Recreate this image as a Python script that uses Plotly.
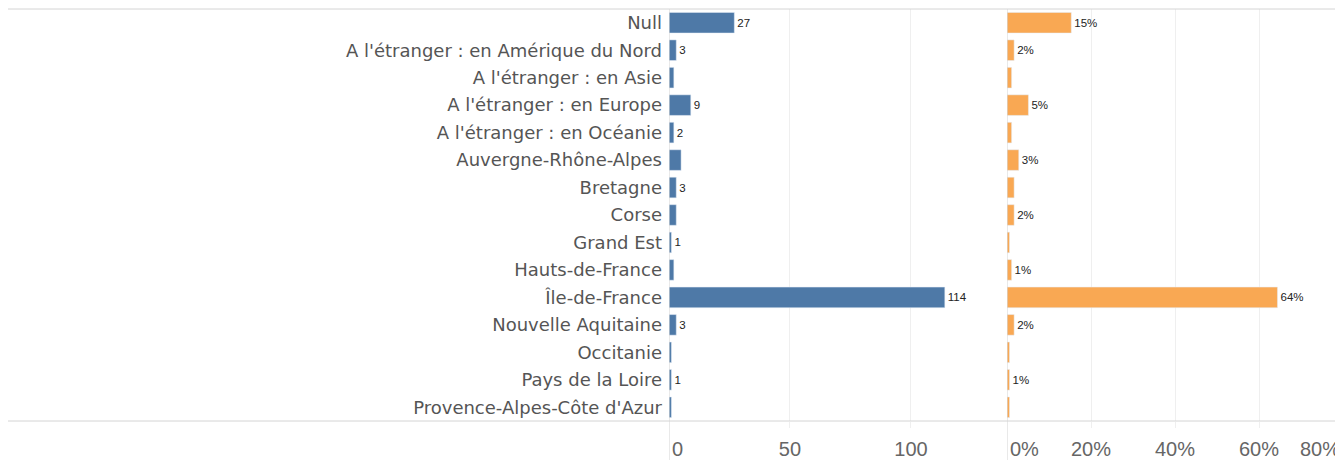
import plotly.graph_objects as go

regions = [
    'Null',
    "A l'étranger : en Amérique du Nord",
    "A l'étranger : en Asie",
    "A l'étranger : en Europe",
    "A l'étranger : en Océanie",
    'Auvergne-Rhône-Alpes',
    'Bretagne',
    'Corse',
    'Grand Est',
    'Hauts-de-France',
    'Île-de-France',
    'Nouvelle Aquitaine',
    'Occitanie',
    'Pays de la Loire',
    "Provence-Alpes-Côte d'Azur",
]
counts = [27, 3, 2, 9, 2, 5, 3, 3, 1, 2, 114, 3, 1, 1, 1]
count_labels = ['27', '3', '', '9', '2', '', '3', '', '1', '', '114', '3', '', '1', '']
pcts = [15.3, 1.7, 1.1, 5.1, 1.1, 2.8, 1.7, 1.7, 0.6, 1.1, 64.4, 1.7, 0.6, 0.6, 0.6]
pct_labels = ['15%', '2%', '', '5%', '', '3%', '', '2%', '', '1%', '64%', '2%', '', '1%', '']

left_ticks = [50, 100]
right_ticks = [20, 40, 60]

# page body keeps its default 8px margin, so the figure is sized to the rest
# of the window and all pixel positions below are relative to the figure
W, H = 1335, 452
top, bottom = 1, 413
x0_left, x0_right = 661, 999
ydom = [(H - bottom) / H, (H - top) / H]

blue = '#4e79a7'
orange = '#f9a853'
grid = '#efefef'
rule = '#d4d4d4'
font = 'Liberation Sans, Arial, sans-serif'
catfont = 'DejaVu Sans, Liberation Sans, sans-serif'

fig = go.Figure()
fig.add_trace(go.Bar(
    x=counts, y=regions, orientation='h', marker_color=blue, width=0.75,
    text=count_labels, textposition='outside', cliponaxis=False,
    textfont=dict(family=font, size=11.5, color='#222'), xaxis='x', yaxis='y',
    hoverinfo='x+y'
))
fig.add_trace(go.Bar(
    x=pcts, y=regions, orientation='h', marker_color=orange, width=0.75,
    text=pct_labels, textposition='outside', cliponaxis=False,
    textfont=dict(family=font, size=11.5, color='#222'), xaxis='x2', yaxis='y2',
    hoverinfo='x+y'
))

tickfont = dict(family=font, size=20, color='#666')
xstyle = dict(showgrid=True, gridcolor=grid, zeroline=False, showline=False,
              ticks='outside', ticklen=6, tickcolor=grid, tickfont=tickfont,
              ticklabelstandoff=4, automargin=False, fixedrange=True)
ystyle = dict(domain=ydom, categoryorder='array', categoryarray=regions,
              autorange='reversed', showgrid=False, zeroline=False, ticks='',
              automargin=False, fixedrange=True)
fig.update_layout(
    width=W, height=H,
    margin=dict(l=0, r=0, t=0, b=0),
    paper_bgcolor='white', plot_bgcolor='white',
    showlegend=False,
    font=dict(family=font),
    xaxis=dict(domain=[x0_left / W, x0_right / W], range=[0, 139.7],
               tickvals=left_ticks, ticktext=[str(v) for v in left_ticks],
               anchor='y', **xstyle),
    xaxis2=dict(domain=[x0_right / W, 1.0], range=[0, 80],
                tickvals=right_ticks, ticktext=[f'{v}%' for v in right_ticks],
                anchor='y2', **xstyle),
    yaxis=dict(tickfont=dict(family=catfont, size=18, color='#555'),
               ticklabelstandoff=6, anchor='x', **ystyle),
    yaxis2=dict(showticklabels=False, anchor='x2', matches='y', **ystyle),
)

# edge tick labels, anchored so they stay inside the panes
edge = dict(yref='paper', y=ydom[0], yanchor='middle', yshift=-28,
            showarrow=False, font=tickfont)
fig.add_annotation(x=0, xref='x', text='0', xanchor='left', xshift=1, **edge)
fig.add_annotation(x=0, xref='x2', text='0%', xanchor='left', xshift=1, **edge)
fig.add_annotation(x=80, xref='x2', text='80%', xanchor='right', xshift=-1, **edge)

# pane borders
fig.add_shape(type='line', xref='paper', yref='paper', x0=0, x1=1,
              y0=ydom[1], y1=ydom[1], line=dict(color=rule, width=1))
fig.add_shape(type='line', xref='paper', yref='paper', x0=0, x1=1,
              y0=ydom[0], y1=ydom[0], line=dict(color=rule, width=1))
fig.add_shape(type='line', xref='x', yref='paper', x0=0, x1=0,
              y0=0, y1=ydom[1], line=dict(color=rule, width=1))
fig.add_shape(type='line', xref='x2', yref='paper', x0=0, x1=0,
              y0=0, y1=ydom[1], line=dict(color=rule, width=1))

fig.write_html('out.html')
